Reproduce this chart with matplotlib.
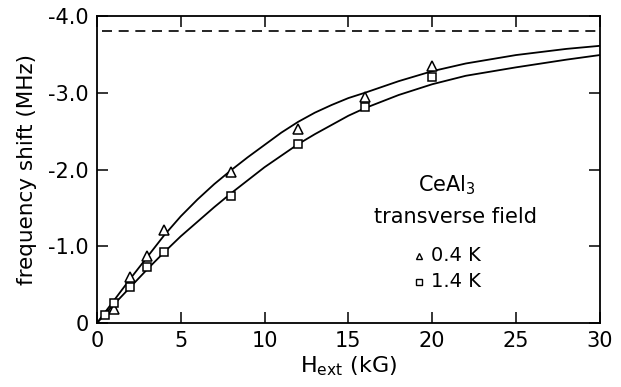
import numpy as np
import matplotlib.pyplot as plt

# measured points (frequency shift in MHz, negative)
h_04 = [1, 2, 3, 4, 8, 12, 16, 20]
f_04 = [-0.18, -0.60, -0.87, -1.21, -1.97, -2.53, -2.95, -3.35]
h_14 = [0.5, 1, 2, 3, 4, 8, 12, 16, 20]
f_14 = [-0.10, -0.26, -0.47, -0.73, -0.92, -1.66, -2.33, -2.81, -3.20]

# fitted curves
h_fit = [0, 1, 2, 3, 4, 5, 6, 7, 8, 9, 10, 11, 12, 13, 14, 15, 16, 18, 20, 22, 25, 28, 30]
fit_04 = [0, -0.29, -0.58, -0.86, -1.14, -1.39, -1.61, -1.81, -1.99, -2.16,
          -2.32, -2.48, -2.62, -2.74, -2.84, -2.93, -3.00, -3.15, -3.28, -3.38,
          -3.49, -3.57, -3.61]
fit_14 = [0, -0.24, -0.47, -0.70, -0.92, -1.13, -1.32, -1.51, -1.69, -1.86,
          -2.03, -2.18, -2.33, -2.46, -2.58, -2.70, -2.80, -2.97, -3.11, -3.22,
          -3.33, -3.43, -3.49]
saturation = -3.8

x_ticks = [0, 5, 10, 15, 20, 25, 30]
y_ticks = [0, -1.0, -2.0, -3.0, -4.0]
y_labels = ["0", "-1.0", "-2.0", "-3.0", "-4.0"]

fig = plt.figure(figsize=(6.21, 3.87), dpi=100)
ax = fig.add_axes([0.156, 0.165, 0.81, 0.794])

ax.plot(h_fit, fit_04, color="black", lw=1.3)
ax.plot(h_fit, fit_14, color="black", lw=1.3)
ax.axhline(saturation, color="black", lw=1.2, ls=(0, (6, 4)), xmin=0.01, xmax=0.995)
ax.plot(h_04, f_04, ls="none", marker="^", ms=7, mfc="white", mec="black", mew=1.1)
ax.plot(h_14, f_14, ls="none", marker="s", ms=5.5, mfc="white", mec="black", mew=1.1)

ax.set_xlim(0, 30)
ax.set_ylim(0, -4.0)
ax.set_xticks(x_ticks)
ax.set_yticks(y_ticks)
ax.set_yticklabels(y_labels)
ax.tick_params(direction="in", length=8, width=1.1, labelsize=15,
               top=True, right=True, pad=6)
for s in ax.spines.values():
    s.set_linewidth(1.3)

ax.set_xlabel(r"H$_\mathregular{ext}$ (kG)", fontsize=16, labelpad=2)
ax.set_ylabel("frequency shift (MHz)", fontsize=15.5, labelpad=8)

ax.text(0.696, 0.45, r"CeAl$_\mathregular{3}$", transform=ax.transAxes,
        fontsize=15, ha="center", va="center")
ax.text(0.712, 0.345, "transverse field", transform=ax.transAxes,
        fontsize=15, ha="center", va="center")
ax.plot([0.64], [0.22], transform=ax.transAxes, marker="^", ms=5,
        mfc="white", mec="black", mew=1.0, ls="none")
ax.plot([0.64], [0.135], transform=ax.transAxes, marker="s", ms=4,
        mfc="white", mec="black", mew=1.0, ls="none")
ax.text(0.664, 0.22, "0.4 K", transform=ax.transAxes, fontsize=14,
        ha="left", va="center")
ax.text(0.664, 0.135, "1.4 K", transform=ax.transAxes, fontsize=14,
        ha="left", va="center")

fig.savefig("out.png", dpi=100)
